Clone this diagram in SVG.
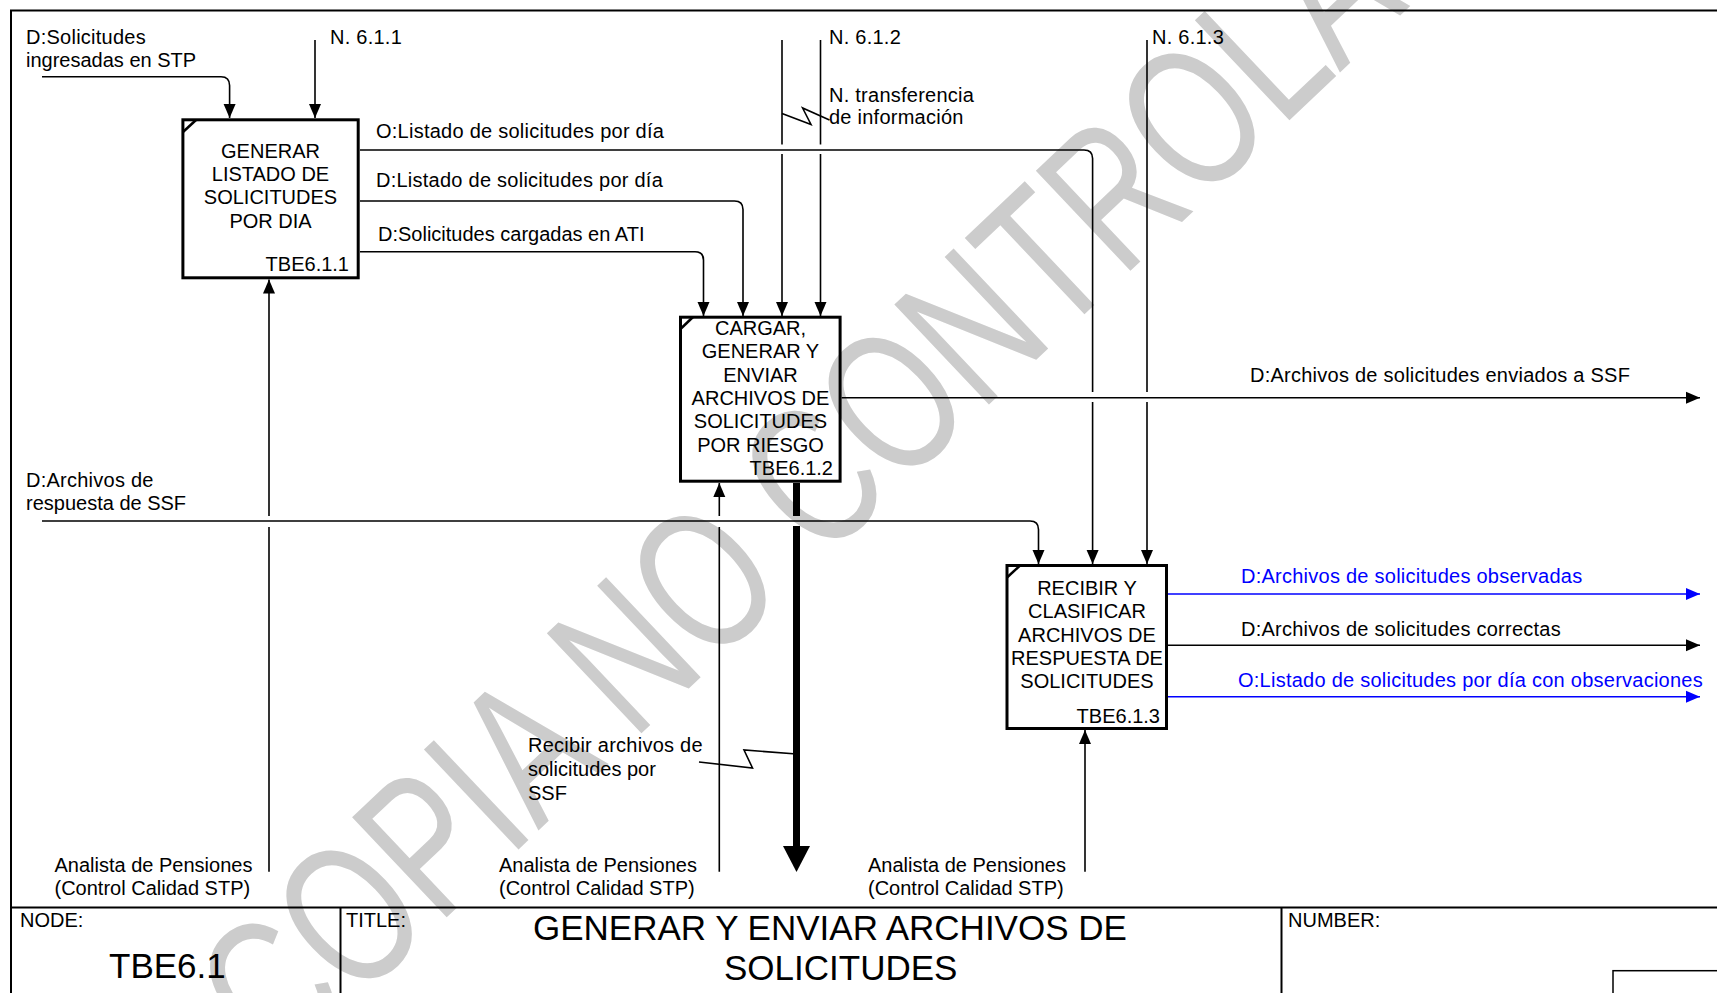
<svg xmlns="http://www.w3.org/2000/svg" width="1717" height="993" viewBox="0 0 1717 993">
<style>
.t{font-family:"Liberation Sans",Arial,sans-serif;font-size:20px;fill:#000}
.ls{letter-spacing:0.25px}
.blue{fill:#0000ff}
.mid{text-anchor:middle}
.end{text-anchor:end}
.c{fill:none;stroke:#000;stroke-width:1.6}
.cb{fill:none;stroke:#0000ff;stroke-width:1.6}
.box{fill:none;stroke:#000;stroke-width:3}
.tick{stroke:#000;stroke-width:2.5}
.frame{fill:none;stroke:#000;stroke-width:2}
.wm{font-family:"Liberation Sans",Arial,sans-serif;font-size:200px;fill:#cccccc}
</style>
<defs>
<marker id="ah" markerUnits="userSpaceOnUse" markerWidth="14" markerHeight="12" refX="14" refY="6" orient="auto" overflow="visible"><path d="M0,0 L14,6 L0,12 z" fill="#000"/></marker>
<marker id="ahb" markerUnits="userSpaceOnUse" markerWidth="14" markerHeight="12" refX="14" refY="6" orient="auto" overflow="visible"><path d="M0,0 L14,6 L0,12 z" fill="#0000ff"/></marker>
</defs>
<rect x="0" y="0" width="1717" height="993" fill="#fff"/>
<text class="wm" transform="translate(279,1076) rotate(-43.4) scale(0.73,1)">COPIA NO CONTROLADA</text>

<g id="frame">
<rect class="frame" x="11" y="10.5" width="1800" height="1100"/>
<line class="frame" x1="11" y1="907.5" x2="1717" y2="907.5"/>
<line class="frame" x1="340.5" y1="907.5" x2="340.5" y2="993"/>
<line class="frame" x1="1281.5" y1="907.5" x2="1281.5" y2="993"/>
<rect x="1613" y="970.7" width="200" height="100" fill="none" stroke="#000" stroke-width="1.5"/>
<text class="t" x="20" y="927">NODE:</text>
<text class="t" x="109" y="978" style="font-size:35px">TBE6.1</text>
<text class="t" x="346" y="927">TITLE:</text>
<text class="t" x="533" y="940" style="font-size:35px">GENERAR Y ENVIAR ARCHIVOS DE</text>
<text class="t" x="724" y="980" style="font-size:35px">SOLICITUDES</text>
<text class="t" x="1288" y="927">NUMBER:</text>
</g>

<g id="node-TBE6.1.1">
<rect class="box" x="182.9" y="119.8" width="175.3" height="158"/>
<line class="tick" x1="183" y1="132" x2="196" y2="120"/>
<text class="t mid" x="270.5" y="157.5">GENERAR</text>
<text class="t mid" x="270.5" y="181">LISTADO DE</text>
<text class="t mid" x="270.5" y="204">SOLICITUDES</text>
<text class="t mid" x="270.5" y="227.5">POR DIA</text>
<text class="t end" x="349" y="271">TBE6.1.1</text>
</g>

<g id="node-TBE6.1.2">
<rect class="box" x="680.5" y="317.2" width="159.6" height="164"/>
<line class="tick" x1="680.5" y1="329" x2="693" y2="317"/>
<text class="t mid" x="760.5" y="335">CARGAR,</text>
<text class="t mid" x="760.5" y="358.3">GENERAR Y</text>
<text class="t mid" x="760.5" y="381.7">ENVIAR</text>
<text class="t mid" x="760.5" y="405">ARCHIVOS DE</text>
<text class="t mid" x="760.5" y="428.3">SOLICITUDES</text>
<text class="t mid" x="760.5" y="451.7">POR RIESGO</text>
<text class="t end" x="833" y="475">TBE6.1.2</text>
</g>

<g id="node-TBE6.1.3">
<rect class="box" x="1007" y="565.5" width="159.5" height="163"/>
<line class="tick" x1="1007" y1="577.5" x2="1020" y2="565.5"/>
<text class="t mid" x="1087" y="595">RECIBIR Y</text>
<text class="t mid" x="1087" y="618.3">CLASIFICAR</text>
<text class="t mid" x="1087" y="641.7">ARCHIVOS DE</text>
<text class="t mid" x="1087" y="665">RESPUESTA DE</text>
<text class="t mid" x="1087" y="688.3">SOLICITUDES</text>
<text class="t end" x="1160" y="723">TBE6.1.3</text>
</g>

<g id="connectors">
<path class="c" d="M42,76.7 H221 Q229.6,76.7 229.6,85.5 V118" marker-end="url(#ah)"/>
<path class="c" d="M315,40 V118" marker-end="url(#ah)"/>
<path class="c" d="M360,150 H1084 Q1092.6,150 1092.6,158.5 V392"/>
<path class="c" d="M1092.6,402 V564" marker-end="url(#ah)"/>
<path class="c" d="M360,201 H734.5 Q743,201 743,209.5 V316" marker-end="url(#ah)"/>
<path class="c" d="M360,251.7 H695 Q703.5,251.7 703.5,260 V316" marker-end="url(#ah)"/>
<path class="c" d="M782,40 V144.5"/>
<path class="c" d="M782,154 V316" marker-end="url(#ah)"/>
<path class="c" d="M820.5,40 V144.5"/>
<path class="c" d="M820.5,154 V316" marker-end="url(#ah)"/>
<path class="c" d="M1147,40 V392"/>
<path class="c" d="M1147,402 V564" marker-end="url(#ah)"/>
<path class="c" d="M841.6,397.7 H1700" marker-end="url(#ah)"/>
<path class="c" d="M42,521 H1030 Q1038.5,521 1038.5,529.5 V564" marker-end="url(#ah)"/>
<path class="c" d="M269,871.7 V527"/>
<path class="c" d="M269,516 V279.5" marker-end="url(#ah)"/>
<path class="c" d="M719.3,871.7 V527"/>
<path class="c" d="M719.3,516 V483" marker-end="url(#ah)"/>
<path class="c" d="M1085,871.7 V730" marker-end="url(#ah)"/>
<path d="M796.5,483 V516 M796.5,526 V850" fill="none" stroke="#000" stroke-width="7"/>
<polygon points="783,846 810,846 796.5,872" fill="#000"/>
<path class="cb" d="M1168,594 H1700" marker-end="url(#ahb)"/>
<path class="c" d="M1168,645.3 H1700" marker-end="url(#ah)"/>
<path class="cb" d="M1168,696.7 H1700" marker-end="url(#ahb)"/>
<path class="c" d="M782,113.5 L811,124.5 L802.6,108 L829.5,120"/>
<path class="c" d="M796.5,754 L744,750 L752.5,768 L699,762"/>
</g>

<g id="labels">
<text class="t ls" x="26" y="44">D:Solicitudes</text>
<text class="t" x="26" y="67">ingresadas en STP</text>
<text class="t ls" x="330" y="44">N. 6.1.1</text>
<text class="t ls" x="829" y="44">N. 6.1.2</text>
<text class="t ls" x="829" y="101.5">N. transferencia</text>
<text class="t ls" x="829" y="124">de información</text>
<text class="t ls" x="1152" y="44">N. 6.1.3</text>
<text class="t ls" x="376" y="138">O:Listado de solicitudes por día</text>
<text class="t ls" x="376" y="187">D:Listado de solicitudes por día</text>
<text class="t" x="378" y="241">D:Solicitudes cargadas en ATI</text>
<text class="t ls" x="1250" y="382">D:Archivos de solicitudes enviados a SSF</text>
<text class="t ls" x="26" y="487">D:Archivos de</text>
<text class="t" x="26" y="510">respuesta de SSF</text>
<text class="t ls blue" x="1241" y="583">D:Archivos de solicitudes observadas</text>
<text class="t ls" x="1241" y="636">D:Archivos de solicitudes correctas</text>
<text class="t ls blue" x="1238" y="687">O:Listado de solicitudes por día con observaciones</text>
<text class="t ls" x="528" y="752">Recibir archivos de</text>
<text class="t" x="528" y="776">solicitudes por</text>
<text class="t" x="528" y="800">SSF</text>
<text class="t" x="54.5" y="872">Analista de Pensiones</text>
<text class="t" x="54.5" y="895">(Control Calidad STP)</text>
<text class="t" x="499" y="872">Analista de Pensiones</text>
<text class="t" x="499" y="895">(Control Calidad STP)</text>
<text class="t" x="868" y="872">Analista de Pensiones</text>
<text class="t" x="868" y="895">(Control Calidad STP)</text>
</g>
</svg>
